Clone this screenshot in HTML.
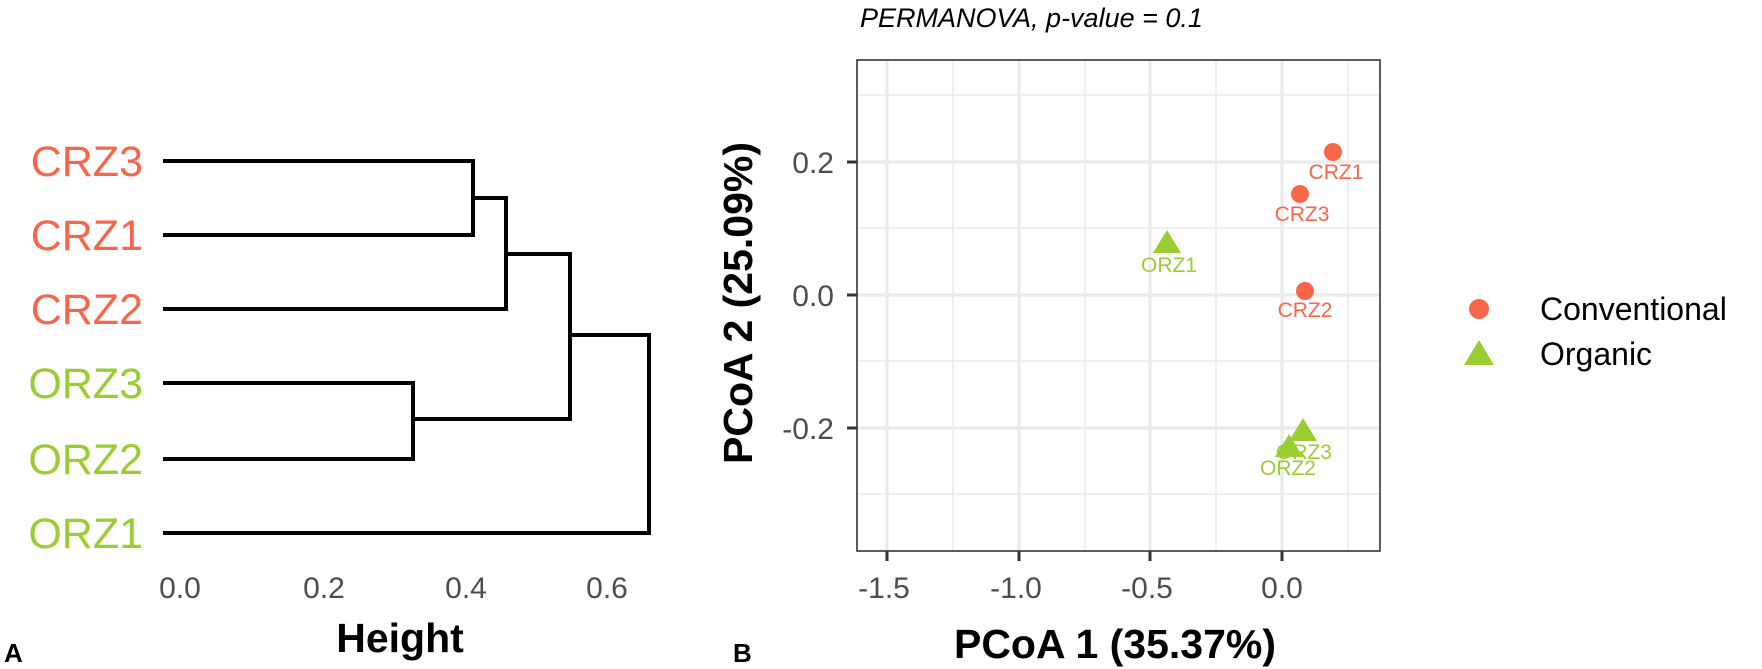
<!DOCTYPE html>
<html><head><meta charset="utf-8"><style>body{margin:0;background:#fff}svg{display:block}</style></head><body>
<svg width="1762" height="669" viewBox="0 0 1762 669" xmlns="http://www.w3.org/2000/svg" font-family="Liberation Sans, sans-serif">
<!-- Panel A -->
<g font-size="43" text-anchor="end">
<text x="143" y="176" fill="#f8664a">CRZ3</text>
<text x="143" y="250" fill="#f8664a">CRZ1</text>
<text x="143" y="324" fill="#f8664a">CRZ2</text>
<text x="143" y="398" fill="#9acd32">ORZ3</text>
<text x="143" y="474" fill="#9acd32">ORZ2</text>
<text x="143" y="548" fill="#9acd32">ORZ1</text>
</g>
<g stroke="#000" stroke-width="4" fill="none" stroke-linejoin="miter">
<polyline points="163,161 473,161 473,235 163,235"/>
<polyline points="473,198 506,198 506,309 163,309"/>
<polyline points="163,383 413,383 413,459 163,459"/>
<polyline points="506,254 570,254 570,419 413,419"/>
<polyline points="570,335 649,335 649,533 163,533"/>
</g>
<g font-size="30" fill="#4d4d4d" text-anchor="middle">
<text x="180" y="598">0.0</text><text x="324" y="598">0.2</text><text x="466" y="598">0.4</text><text x="607" y="598">0.6</text>
</g>
<text x="400" y="652" font-size="41" font-weight="bold" text-anchor="middle">Height</text>
<text x="4" y="662" font-size="26" font-weight="bold">A</text>

<!-- Panel B -->
<text x="860" y="27" font-size="27" font-style="italic">PERMANOVA, p-value = 0.1</text>
<g stroke="#ebebeb">
<g stroke-width="1.6">
<line x1="953" y1="60" x2="953" y2="551"/><line x1="1085" y1="60" x2="1085" y2="551"/><line x1="1216" y1="60" x2="1216" y2="551"/><line x1="1348" y1="60" x2="1348" y2="551"/>
<line x1="857" y1="95" x2="1380" y2="95"/><line x1="857" y1="228" x2="1380" y2="228"/><line x1="857" y1="361" x2="1380" y2="361"/><line x1="857" y1="494" x2="1380" y2="494"/>
</g>
<g stroke-width="3.2">
<line x1="887" y1="60" x2="887" y2="551"/><line x1="1019" y1="60" x2="1019" y2="551"/><line x1="1150" y1="60" x2="1150" y2="551"/><line x1="1282" y1="60" x2="1282" y2="551"/>
<line x1="857" y1="162" x2="1380" y2="162"/><line x1="857" y1="295" x2="1380" y2="295"/><line x1="857" y1="428" x2="1380" y2="428"/>
</g>
</g>
<rect x="857" y="60" width="523" height="491" fill="none" stroke="#333" stroke-width="1.6"/>
<g stroke="#333" stroke-width="3">
<line x1="847" y1="162" x2="857" y2="162"/><line x1="847" y1="295" x2="857" y2="295"/><line x1="847" y1="428" x2="857" y2="428"/>
<line x1="887" y1="551" x2="887" y2="561"/><line x1="1019" y1="551" x2="1019" y2="561"/><line x1="1150" y1="551" x2="1150" y2="561"/><line x1="1282" y1="551" x2="1282" y2="561"/>
</g>
<g font-size="30" fill="#4d4d4d" text-anchor="end">
<text x="834" y="173">0.2</text><text x="834" y="306">0.0</text><text x="834" y="439">-0.2</text>
</g>
<g font-size="30" fill="#4d4d4d" text-anchor="middle">
<text x="884" y="598">-1.5</text><text x="1016" y="598">-1.0</text><text x="1147" y="598">-0.5</text><text x="1282" y="598">0.0</text>
</g>
<text x="1115" y="658" font-size="41" font-weight="bold" text-anchor="middle">PCoA 1 (35.37%)</text>
<text transform="translate(752,303) rotate(-90)" font-size="41" font-weight="bold" text-anchor="middle">PCoA 2 (25.09%)</text>
<text x="733" y="662" font-size="26" font-weight="bold">B</text>
<!-- points -->
<g fill="#f8664a">
<circle cx="1333" cy="152" r="9"/><circle cx="1300" cy="194" r="9"/><circle cx="1305" cy="291" r="9"/>
</g>
<g fill="#9acd32">
<polygon points="1167,230 1181,253 1153,253"/>
<polygon points="1303,418 1317,441 1289,441"/>
<polygon points="1289,434 1303,457 1275,457"/>
</g>
<g font-size="21" text-anchor="middle">
<text x="1336" y="179" fill="#f8664a">CRZ1</text>
<text x="1302" y="221" fill="#f8664a">CRZ3</text>
<text x="1305" y="317" fill="#f8664a">CRZ2</text>
<text x="1169" y="272" fill="#9acd32">ORZ1</text>
<text x="1304" y="459" fill="#9acd32">ORZ3</text>
<text x="1288" y="475" fill="#9acd32">ORZ2</text>
</g>
<!-- legend -->
<circle cx="1479" cy="309" r="10" fill="#f8664a"/>
<polygon points="1479,340 1494,365 1464,365" fill="#9acd32"/>
<g font-size="32"><text x="1540" y="320">Conventional</text><text x="1540" y="365">Organic</text></g>
</svg>
</body></html>
